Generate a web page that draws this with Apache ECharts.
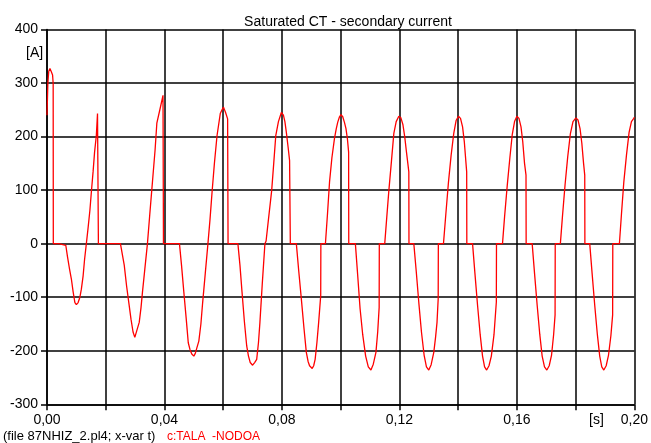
<!DOCTYPE html>
<html>
<head>
<meta charset="utf-8">
<script src="https://cdn.jsdelivr.net/npm/echarts@6/dist/echarts.min.js"></script>
<style>
html,body{margin:0;padding:0;background:#fff;}
#chart{width:651px;height:443px;}
</style>
</head>
<body>
<div id="chart"></div>
<script>
// time in milliseconds
const timeMs = [
  0, 0.3, 0.6, 1.0, 1.4, 1.9, 2.1, 2.15, 4.0, 6.4, 7.0, 7.6, 8.3, 8.9, 9.5, 10.0, 10.6, 11.2, 11.7, 12.3, 12.8, 13.4, 14.0, 14.6, 15.1, 15.7, 16.2, 16.8, 17.2, 17.45, 17.5,
  25.0, 25.6, 26.3, 27.1, 27.9, 28.6, 29.3, 29.9, 30.5, 31.4, 32.0, 32.5, 33.3, 34.2, 35.0, 35.9, 36.8, 37.4, 38.5, 39.5, 39.6, 39.65,
  45.1, 45.8, 46.6, 47.4, 48.1, 48.7, 49.3, 50.0, 50.5, 51.0, 51.7, 52.4, 53.0, 53.9, 54.8, 55.5, 56.2, 57.0, 57.9, 59.0, 59.6, 60.1, 60.8, 61.5, 61.6, 61.65,
  65.0, 65.7, 66.4, 67.2, 68.0, 68.6, 69.2, 70.0, 70.7, 71.4, 72.0, 72.5, 73.3, 74.2, 74.6, 75.5, 76.5, 77.2, 77.9, 78.8, 79.8,
  80.5, 81.0, 81.5, 82.1, 82.6, 82.8, 82.85, 84.9, 85.7, 86.6, 87.5, 88.3, 88.9, 89.4, 90.3, 90.8, 91.3, 91.9, 92.5, 93.2, 93.25, 94.8, 95.5, 96.2, 97.0, 97.9, 98.5, 99.0, 99.6, 100.1,
  100.7, 101.3, 101.8, 102.3, 102.7, 102.75, 105.0, 105.8, 106.6, 107.5, 108.5, 109.4, 110.3, 111.1, 112.0, 112.6, 113.1, 113.15, 115.0, 115.7, 116.4, 117.3, 118.1, 118.9, 119.8,
  120.5, 121.2, 121.8, 122.4, 122.9, 123.2, 123.25, 124.9, 125.7, 126.6, 127.5, 128.4, 129.2, 130.0, 130.8, 131.7, 132.3, 132.8, 133.2, 133.25, 135.0, 135.8, 136.7, 137.6, 138.5, 139.3, 140.1,
  140.8, 141.5, 142.1, 142.6, 142.9, 142.95, 144.9, 145.7, 146.6, 147.5, 148.3, 149.0, 149.7, 150.5, 151.3, 152.2, 153.0, 153.05, 155.1, 155.8, 156.7, 157.6, 158.4, 159.2, 160.0,
  160.7, 161.4, 162.0, 162.6, 163.1, 163.15, 165.2, 166.0, 166.9, 167.8, 168.6, 169.4, 170.2, 171.0, 171.8, 172.5, 173.0, 173.05, 174.8, 175.5, 176.4, 177.3, 178.2, 179.1, 180.1,
  180.8, 181.5, 182.1, 182.7, 183.1, 183.15, 184.8, 185.6, 186.5, 187.4, 188.2, 188.9, 189.6, 190.4, 191.2, 192.0, 192.6, 192.65, 194.9, 195.6, 196.4, 197.3, 198.2, 199.0, 199.8, 200.0
];
// secondary current in A
const currentA = [
  240, 300, 322, 327, 322, 315, 299, 0, 0, -3, -25, -45, -66, -90, -110, -114, -110, -100, -85, -60, -29, 0, 30, 62, 96, 135, 171, 202, 243, 243, 0,
  0, -2, -40, -79, -112, -141, -165, -175, -172, -147, -120, -91, -48, 0, 55, 115, 175, 225, 252, 277, 277, 0,
  0, -40, -91, -140, -185, -198, -206, -210, -205, -195, -182, -150, -110, -55, 0, 45, 96, 150, 202, 243, 250, 255, 245, 233, 232, 0,
  0, -40, -90, -145, -191, -210, -222, -227, -222, -216, -185, -147, -75, 0, 5, 50, 99, 150, 202, 228, 245,
  240, 228, 208, 180, 155, 152, 0, 0, -50, -103, -158, -203, -220, -228, -233, -228, -216, -185, -147, -97, 0, 0, 55, 115, 160, 197, 215, 227, 237, 241,
  237, 226, 215, 195, 171, 0, 0, -60, -121, -170, -210, -230, -236, -225, -203, -165, -119, 0, 0, 50, 99, 155, 206, 228, 238,
  235, 222, 200, 171, 148, 134, 0, 0, -50, -110, -165, -208, -230, -236, -226, -203, -175, -147, -103, 0, 0, 55, 115, 165, 206, 230, 238,
  234, 218, 190, 155, 134, 0, 0, -55, -115, -170, -210, -230, -236, -228, -210, -170, -109, 0, 0, 50, 108, 160, 203, 228, 238,
  234, 218, 190, 150, 128, 0, 0, -55, -115, -170, -210, -230, -236, -228, -208, -170, -133, 0, 0, 50, 110, 162, 205, 228, 235,
  231, 215, 188, 150, 128, 0, 0, -55, -115, -170, -210, -230, -236, -228, -208, -172, -133, 0, 0, 55, 115, 165, 208, 228, 234, 236
];
const xTicksShown = ['0,00', '0,04', '0,08', '0,12', '0,16', '0,20'];
const titleText = 'Saturated CT - secondary current';
const footerFile = '(file 87NHIZ_2.pl4; x-var t)';
const footerVar = 'c:TALA  -NODOA';

const seriesData = timeMs.map((t, k) => [t / 1000, currentA[k]]);
const FONT = '"Liberation Sans", Arial, sans-serif';

const chart = echarts.init(document.getElementById('chart'), null, {renderer: 'canvas'});
chart.setOption({
  animation: false,
  backgroundColor: '#fff',
  title: {
    text: titleText,
    left: 343, top: 10, textAlign: 'center',
    textStyle: {fontFamily: FONT, fontSize: 14, fontWeight: 'normal', color: '#000'}
  },
  grid: {left: 47, right: 12, top: 29.5, bottom: 38.7, containLabel: false},
  xAxis: {
    type: 'value', min: 0, max: 0.2, interval: 0.02,
    axisLine: {onZero: false, lineStyle: {color: '#000', width: 1.5}},
    axisTick: {show: true, inside: false, length: 6, lineStyle: {color: '#000', width: 1.5}},
    splitLine: {show: true, lineStyle: {color: '#000', width: 1.5}},
    axisLabel: {
      margin: 9, color: '#000', fontFamily: FONT, fontSize: 14, showMaxLabel: true, showMinLabel: true,
      formatter: function (v) {
        const s = (Math.round(v * 100) / 100).toFixed(2).replace('.', ',');
        return xTicksShown.indexOf(s) >= 0 ? s : '';
      }
    }
  },
  yAxis: {
    type: 'value', min: -300, max: 400, interval: 100,
    axisLine: {show: true, lineStyle: {color: '#000', width: 1.5}},
    axisTick: {show: true, inside: false, length: 6, lineStyle: {color: '#000', width: 1.5}},
    splitLine: {show: true, lineStyle: {color: '#000', width: 1.5}},
    axisLabel: {margin: 9, color: '#000', fontFamily: FONT, fontSize: 14}
  },
  graphic: [
    {type: 'text', left: 26, top: 46, style: {text: '[A]', font: '14px ' + FONT, fill: '#000'}},
    {type: 'text', left: 589, top: 413, style: {text: '[s]', font: '14px ' + FONT, fill: '#000'}},
    {type: 'text', left: 3, top: 430, style: {text: footerFile, font: '13px ' + FONT, fill: '#000'}},
    {type: 'text', left: 167, top: 431, style: {text: footerVar, font: '12px ' + FONT, fill: '#ff0000'}}
  ],
  series: [{
    type: 'line',
    data: seriesData,
    showSymbol: false,
    clip: true,
    lineStyle: {color: '#ff0000', width: 1.3},
    emphasis: {disabled: true}
  }]
});
</script>
</body>
</html>
